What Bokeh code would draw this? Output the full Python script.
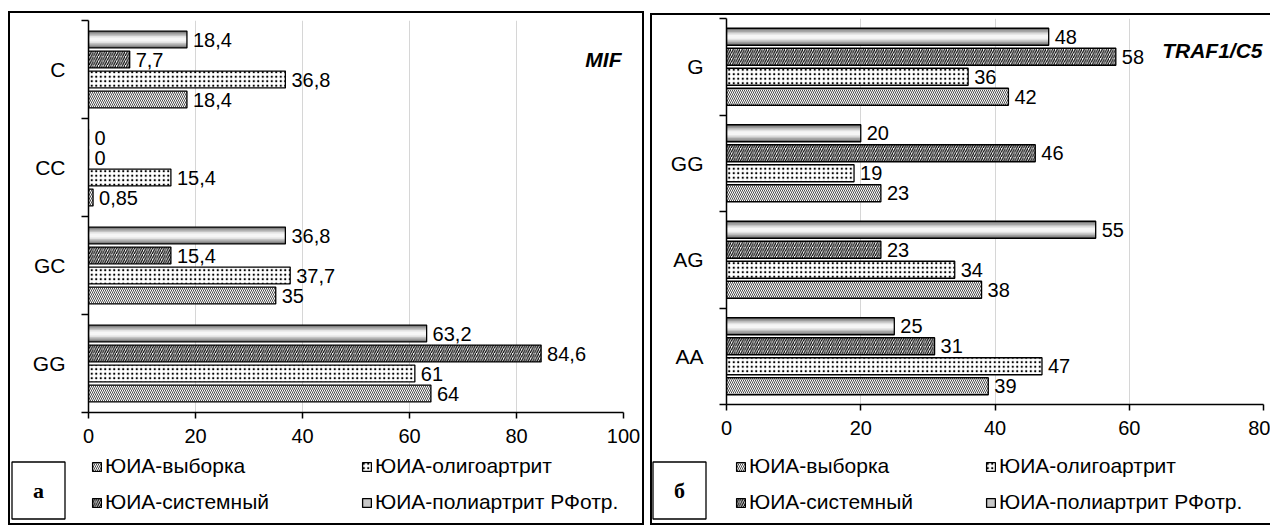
from bokeh.plotting import figure
from bokeh.models import FixedTicker, Legend, LegendItem, Label, ColumnDataSource, Range1d
from bokeh.layouts import row, column
from bokeh.embed import file_html
from bokeh.resources import INLINE
from bokeh.core.properties import value
import numpy as np

# ---------------- data ----------------
series_names = ["ЮИА-выборка", "ЮИА-олигоартрит", "ЮИА-системный", "ЮИА-полиартрит РФотр."]

mif_categories = ["C", "CC", "GC", "GG"]          # top to bottom
mif_sample = [18.4, 0.85, 35, 64]
mif_oligo = [36.8, 15.4, 37.7, 61]
mif_system = [7.7, 0, 15.4, 84.6]
mif_poly = [18.4, 0, 36.8, 63.2]
mif_ticks = [0, 20, 40, 60, 80, 100]

traf_categories = ["G", "GG", "AG", "AA"]         # top to bottom
traf_sample = [42, 23, 38, 39]
traf_oligo = [36, 19, 34, 47]
traf_system = [58, 46, 23, 31]
traf_poly = [48, 20, 55, 25]
traf_ticks = [0, 20, 40, 60, 80]

FONT = "Liberation Sans"

STYLE_SAMPLE = dict(fill_color="white", line_color="black", line_width=1.3,
                    hatch_pattern="\\", hatch_scale=4, hatch_weight=0.7, hatch_color="black")
STYLE_OLIGO = dict(fill_color="white", line_color="black", line_width=1.3,
                   hatch_pattern=".", hatch_scale=4.5, hatch_weight=0.9, hatch_color="black")
STYLE_SYSTEM = dict(fill_color="white", line_color="black", line_width=1.3,
                    hatch_pattern="/", hatch_scale=4.5, hatch_weight=1.2, hatch_color="black")
STYLE_POLY_ICON = dict(fill_color="#c8c8c8", line_color="black", line_width=1.3)


def fmt(v):
    return f"{v:g}".replace(".", ",")


def make_main(cats, sample, oligo, system, poly, ticks, title, width, height,
              borders, pitch, bar_h, title_xy, title_off):
    n = len(cats)
    centers = [n - i - 0.5 for i in range(n)]
    bounds = list(range(n + 1))
    xmax = ticks[-1]
    p = figure(width=width, height=height, output_backend="svg", toolbar_location=None,
               x_range=Range1d(0, xmax), y_range=Range1d(0, n),
               min_border_left=borders[0], min_border_right=borders[1],
               min_border_top=borders[2], min_border_bottom=borders[3],
               frame_align=False)
    p.outline_line_color = None
    p.background_fill_color = "white"
    p.border_fill_color = None

    c = np.array(centers)
    offs = [-1.5, -0.5, 0.5, 1.5]
    p.hbar(y=c + offs[0] * pitch, left=0, right=sample, height=bar_h, **STYLE_SAMPLE)
    p.hbar(y=c + offs[1] * pitch, left=0, right=oligo, height=bar_h, **STYLE_OLIGO)
    p.hbar(y=c + offs[2] * pitch, left=0, right=system, height=bar_h, **STYLE_SYSTEM)
    # poly: gray cylinder-like shading via stacked layers
    layer_fracs = [1.0, 0.8, 0.6, 0.42, 0.25]
    layer_cols = ["#7a7a7a", "#9e9e9e", "#c4c4c4", "#e2e2e2", "#f6f6f6"]
    for fr, col in zip(layer_fracs, layer_cols):
        p.hbar(y=c + offs[3] * pitch, left=0, right=poly, height=bar_h * fr,
               fill_color=col, line_color=None)
    p.hbar(y=c + offs[3] * pitch, left=0, right=poly, height=bar_h,
           fill_color=None, line_color="black", line_width=1.3)

    for vals, off in zip([sample, oligo, system, poly], offs):
        src = ColumnDataSource(dict(x=vals, y=c + off * pitch, t=[fmt(v) for v in vals]))
        p.text(x="x", y="y", text="t", source=src, x_offset=6, text_baseline="middle",
               text_align="left", text_font=value(FONT), text_font_size="20px",
               text_color="black")

    p.xaxis.ticker = FixedTicker(ticks=ticks)
    p.xgrid.ticker = FixedTicker(ticks=ticks)
    p.xgrid.grid_line_color = "#d6d6d6"
    p.xgrid.grid_line_width = 1
    p.ygrid.visible = False
    p.xaxis.major_tick_in = 0
    p.xaxis.major_tick_out = 6
    p.xaxis.minor_tick_out = 0
    p.xaxis.minor_tick_in = 0
    p.xaxis.axis_line_width = 1.5
    p.xaxis.major_tick_line_width = 1.5
    p.xaxis.major_label_standoff = 10
    p.xaxis.major_label_text_font = FONT
    p.xaxis.major_label_text_font_size = "20px"
    p.xaxis.major_label_text_color = "black"

    p.yaxis.ticker = FixedTicker(ticks=centers, minor_ticks=bounds)
    p.yaxis.major_label_overrides = {cv: cat for cv, cat in zip(centers, cats)}
    p.yaxis.major_tick_in = 0
    p.yaxis.major_tick_out = 0
    p.yaxis.minor_tick_in = 0
    p.yaxis.minor_tick_out = 7
    p.yaxis.minor_tick_line_width = 1.5
    p.yaxis.minor_tick_line_color = "black"
    p.yaxis.axis_line_width = 1.5
    p.yaxis.major_label_standoff = 16
    p.yaxis.major_label_text_font = FONT
    p.yaxis.major_label_text_font_size = "21px"
    p.yaxis.major_label_text_color = "black"

    p.add_layout(Label(x=title_xy[0], y=title_xy[1], x_offset=title_off, text=title,
                       text_align="right", text_baseline="middle",
                       text_font=FONT, text_font_size="21px",
                       text_font_style="bold italic", text_color="black"))
    return p


def make_bottom(width, height, series, letter, letter_xy, legend_loc, legend_label_w):
    b = figure(width=width, height=height, output_backend="svg", toolbar_location=None,
               x_range=Range1d(0, width), y_range=Range1d(0, height),
               x_axis_location=None, y_axis_location=None,
               min_border=0, min_border_left=0, min_border_right=0,
               min_border_top=0, min_border_bottom=0, frame_align=False)
    b.grid.visible = False
    b.outline_line_color = None
    b.background_fill_color = None
    b.border_fill_color = None
    # hidden proxies of the four series (only their legend swatches are shown)
    styles = [STYLE_SAMPLE, STYLE_OLIGO, STYLE_SYSTEM, STYLE_POLY_ICON]
    rs = []
    for vals, st in zip(series, styles):
        r = b.hbar(y=list(range(len(vals))), left=0, right=vals, height=0.5, **st)
        r.visible = False
        rs.append(r)
    items = [LegendItem(label=nm, renderers=[r]) for nm, r in zip(series_names, rs)]
    leg = Legend(items=items, location=legend_loc, orientation="horizontal", ncols=2,
                 glyph_width=11, glyph_height=11, label_standoff=3, spacing=12,
                 label_width=legend_label_w, label_height=22,
                 label_text_font=FONT, label_text_font_size="21px",
                 label_text_color="black", padding=0, margin=0,
                 border_line_color=None, background_fill_alpha=0,
                 inactive_fill_alpha=0, click_policy="none")
    b.add_layout(leg)
    b.add_layout(Label(x=letter_xy[0], y=letter_xy[1], text=letter,
                       text_align="center", text_baseline="middle",
                       text_font="Liberation Serif", text_font_size="22px",
                       text_font_style="bold", text_color="black",
                       border_line_color="black", border_line_width=1.3,
                       background_fill_color="white",
                       padding=dict(left=21, right=21, top=16, bottom=16)))
    return b


# ---- left panel (MIF) ----
m1 = make_main(mif_categories, mif_sample, mif_oligo, mif_system, mif_poly, mif_ticks,
               "MIF", 636, 444, (80, 21, 9, 43), 20 / 98, 0.172, (100, 3.60), -2)
b1 = make_bottom(636, 70, [mif_sample, mif_oligo, mif_system, mif_poly],
                 "а", (30, 35), (83, 11), 244)
panel1 = column(m1, b1, spacing=0)
panel1.margin = (11, 0, 0, 8)
panel1.styles = {"outline": "2px solid black", "outline-offset": "-2px"}

# ---- right panel (TRAF1/C5) ----
m2 = make_main(traf_categories, traf_sample, traf_oligo, traf_system, traf_poly, traf_ticks,
               "TRAF1/C5", 620, 442, (76, 7, 5, 51), 20 / 96.5, 0.176, (80, 3.67), -1)
b2 = make_bottom(620, 70, [traf_sample, traf_oligo, traf_system, traf_poly],
                 "б", (29, 35), (85, 11), 224)
panel2 = column(m2, b2, spacing=0)
panel2.margin = (13, 0, 0, 6)
panel2.styles = {"box-shadow": "inset 2px 2px 0 0 #000, inset 0 -2px 0 0 #000"}

layout = row(panel1, panel2, spacing=0)
open("out.html", "w").write(file_html(layout, INLINE))
